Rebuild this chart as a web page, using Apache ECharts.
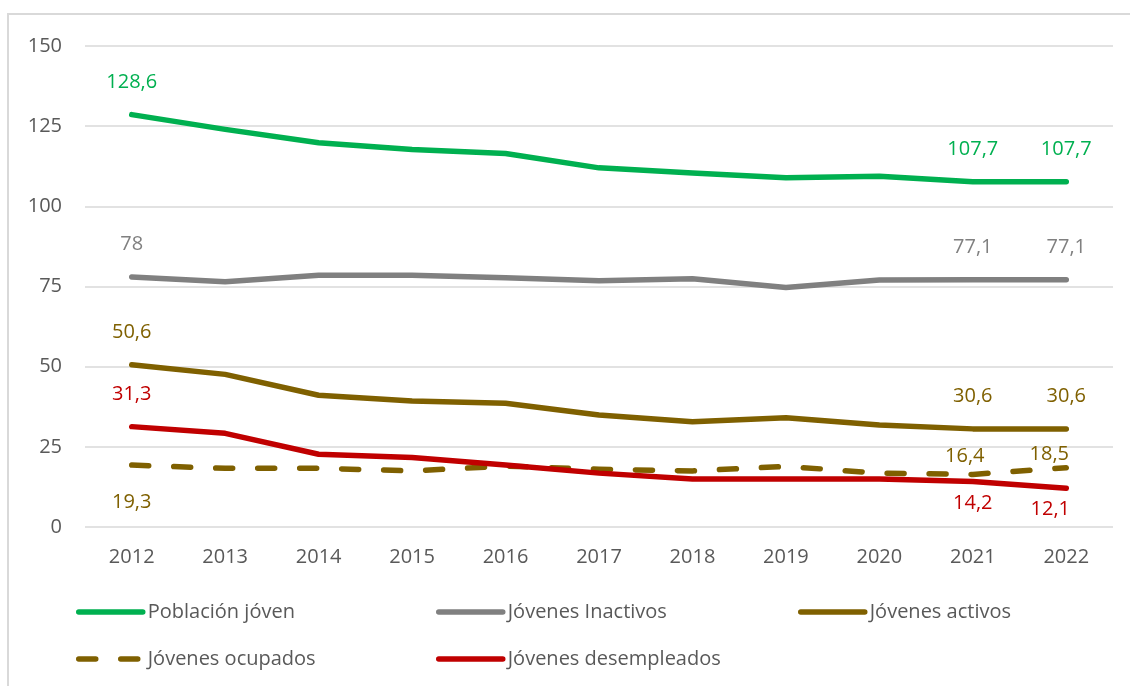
<!DOCTYPE html>
<html>
<head>
<meta charset="utf-8">
<script src="https://cdn.jsdelivr.net/npm/echarts@6/dist/echarts.min.js"></script>
<style>
html,body{margin:0;padding:0;background:#fff;}
#c{width:1130px;height:686px;}
</style>
</head>
<body>
<div id="c"></div>
<script>
var years = ['2012','2013','2014','2015','2016','2017','2018','2019','2020','2021','2022'];
var yTicks = [0, 25, 50, 75, 100, 125, 150];
var seriesNames = ['Población jóven','Jóvenes Inactivos','Jóvenes activos','Jóvenes ocupados','Jóvenes desempleados'];
var poblacion    = [128.6, 124.0, 119.8, 117.7, 116.5, 112.0, 110.4, 108.9, 109.4, 107.7, 107.7];
var inactivos    = [78, 76.5, 78.5, 78.5, 77.7, 76.8, 77.4, 74.7, 77.0, 77.1, 77.1];
var activos      = [50.6, 47.6, 41.1, 39.3, 38.6, 34.9, 32.8, 34.1, 31.8, 30.6, 30.6];
var ocupados     = [19.3, 18.3, 18.3, 17.5, 19.0, 18.0, 17.5, 18.9, 16.8, 16.4, 18.5];
var desempleados = [31.3, 29.2, 22.7, 21.7, 19.3, 16.8, 15.0, 15.0, 15.0, 14.2, 12.1];

var FONT = '"Open Sans", "Liberation Sans", sans-serif';
var colors = ['#00B050', '#808080', '#7F6000', '#7F6000', '#C00000'];
var DASH = [17, 25];

// which points carry a value label, and where
var topStd = {position: 'top', distance: 22};
var labelSpecs = [
  {0: topStd, 9: topStd, 10: topStd},
  {0: topStd, 9: topStd, 10: topStd},
  {0: topStd, 9: topStd, 10: topStd},
  {0: {position: 'bottom', distance: 27}, 9: {position: 'top', distance: 8, offset: [-8, 0]}, 10: {position: 'top', distance: 3, offset: [-17, 0]}},
  {0: topStd, 9: {position: 'bottom', distance: 11}, 10: {position: 'bottom', distance: 11, offset: [-16, 0]}}
];
var allValues = [poblacion, inactivos, activos, ocupados, desempleados];

function fmt(v) { return String(v).replace('.', ','); }

var series = allValues.map(function (vals, s) {
  return {
    name: seriesNames[s],
    type: 'line',
    symbol: 'circle',
    symbolSize: 1,
    showSymbol: true,
    z: 2 + s,
    lineStyle: {
      color: colors[s],
      width: 5.5,
      type: s === 3 ? DASH : 'solid',
      cap: 'round',
      join: 'round'
    },
    itemStyle: {color: 'rgba(0,0,0,0)', borderWidth: 0},
    emphasis: {disabled: true},
    data: vals.map(function (v, i) {
      var spec = labelSpecs[s][i];
      if (!spec) return {value: v, label: {show: false}};
      return {
        value: v,
        label: {
          show: true,
          position: spec.position,
          distance: spec.distance,
          offset: spec.offset || [0, 0],
          color: colors[s],
          fontFamily: FONT,
          fontSize: 20,
          formatter: function (p) { return fmt(p.value); }
        }
      };
    })
  };
});

var legendPos = [[76, 602], [436, 602], [798, 602], [76, 649], [436, 649]];
var legends = seriesNames.map(function (n, i) {
  return {
    data: [n],
    left: legendPos[i][0],
    top: legendPos[i][1],
    padding: 0,
    itemWidth: 64,
    itemHeight: 20,
    itemGap: 0,
    selectedMode: false,
    itemStyle: {opacity: 0},
    lineStyle: {width: 5.5, color: colors[i], type: i === 3 ? DASH : 'solid', cap: 'round'},
    textStyle: {color: '#595959', fontFamily: FONT, fontSize: 20}
  };
});

var chart = echarts.init(document.getElementById('c'), null, {renderer: 'canvas'});
chart.setOption({
  animation: false,
  backgroundColor: '#ffffff',
  graphic: [{
    type: 'rect',
    shape: {x: 8, y: 14, width: 1200, height: 800},
    style: {fill: 'none', stroke: '#D9D9D9', lineWidth: 2},
    silent: true
  }],
  legend: legends,
  grid: {left: 85, right: 17, top: 46, bottom: 159, containLabel: false},
  xAxis: {
    type: 'category',
    data: years,
    boundaryGap: true,
    axisLine: {show: false},
    axisTick: {show: false},
    axisLabel: {color: '#595959', fontFamily: FONT, fontSize: 20, margin: 20}
  },
  yAxis: {
    type: 'value',
    min: yTicks[0],
    max: yTicks[yTicks.length - 1],
    interval: yTicks[1] - yTicks[0],
    axisLine: {show: false},
    axisTick: {show: false},
    axisLabel: {color: '#595959', fontFamily: FONT, fontSize: 20, margin: 23},
    splitLine: {lineStyle: {color: '#D9D9D9', width: 1.5}}
  },
  series: series
});
</script>
</body>
</html>
